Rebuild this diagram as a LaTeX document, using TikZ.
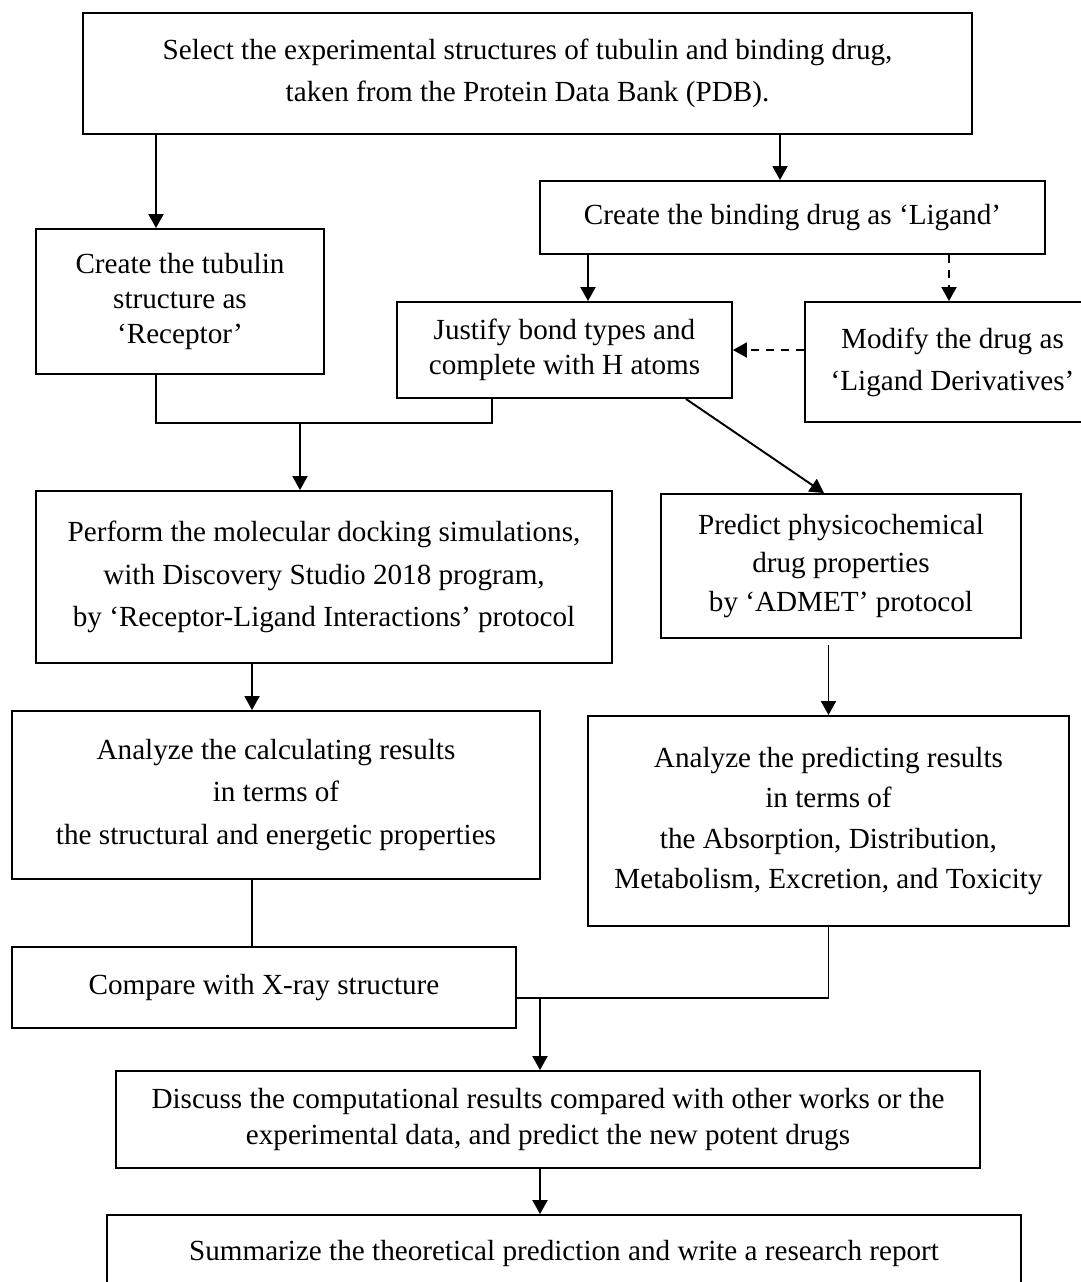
\documentclass[tikz,border=0pt]{standalone}
\usepackage{fontspec}
\setmainfont{Liberation Serif}
\usetikzlibrary{arrows.meta}

\tikzset{
  stepbox/.style={draw, line width=1.1pt, align=center, inner sep=0pt,
    font=\fontsize{16.6}{24}\selectfont},
  tightbox/.style={stepbox, font=\fontsize{16.6}{20}\selectfont},
  arr/.style={-{Triangle[length=0.28cm,width=0.3cm]}},
  dashedarr/.style={arr, dash pattern=on 4.5pt off 4pt},
}

\begin{document}
\begin{tikzpicture}[x=0.02cm, y=-0.02cm, line width=1.1pt]
  \useasboundingbox (0,0) rectangle (1081,1282);
  \clip (0,0) rectangle (1081,1282);

  \node[stepbox, minimum width=17.78cm, minimum height=2.42cm] (select) at (527.5,73.5)
    {Select the experimental structures of tubulin and binding drug,\\taken from the Protein Data Bank (PDB).};
  \node[stepbox, minimum width=10.1cm, minimum height=1.46cm] (ligand) at (792.5,217.5)
    {Create the binding drug as ‘Ligand’};
  \node[tightbox, minimum width=5.76cm, minimum height=2.9cm] (receptor) at (180,301.5)
    {Create the tubulin\\structure as\\‘Receptor’};
  \node[tightbox, minimum width=6.7cm, minimum height=1.92cm] (justify) at (564.5,350)
    {Justify bond types and\\complete with H atoms};
  \node[stepbox, minimum width=5.9cm, minimum height=2.4cm] (modify) at (952.5,362)
    {Modify the drug as\\‘Ligand Derivatives’};
  \node[stepbox, minimum width=11.52cm, minimum height=3.44cm] (perform) at (324,577)
    {Perform the molecular docking simulations,\\with Discovery Studio 2018 program,\\by ‘Receptor-Ligand Interactions’ protocol};
  \node[stepbox, minimum width=7.2cm, minimum height=2.88cm,
    font=\fontsize{16.6}{22}\selectfont] (predict) at (841,566)
    {Predict physicochemical\\drug properties\\by ‘ADMET’ protocol};
  \node[stepbox, minimum width=10.56cm, minimum height=3.36cm] (analyzecalc) at (276,795)
    {Analyze the calculating results\\in terms of\\the structural and energetic properties};
  \node[stepbox, minimum width=9.62cm, minimum height=4.2cm,
    font=\fontsize{16.6}{23}\selectfont] (analyzepred) at (828.5,821)
    {Analyze the predicting results\\in terms of\\the Absorption, Distribution,\\Metabolism, Excretion, and Toxicity};
  \node[stepbox, minimum width=10.08cm, minimum height=1.62cm] (compare) at (264,987.5)
    {Compare with X-ray structure};
  \node[tightbox, minimum width=17.28cm, minimum height=1.94cm] (discuss) at (548,1119.5)
    {Discuss the computational results compared with other works or the\\experimental data, and predict the new potent drugs};
  \node[stepbox, minimum width=18.28cm, minimum height=1.52cm] (summarize) at (564,1253)
    {Summarize the theoretical prediction and write a research report};

  \coordinate (join1) at (300,423);
  \coordinate (join2) at (540,998);

  \draw[arr] ([xshift=-0.48cm]receptor.north |- select.south) -- ([xshift=-0.48cm]receptor.north);
  \draw[arr] ([xshift=-0.25cm]ligand.north |- select.south) -- ([xshift=-0.25cm]ligand.north);
  \draw[arr] ([xshift=0.47cm]justify.north |- ligand.south) -- ([xshift=0.47cm]justify.north);
  \draw[dashedarr] ([xshift=-0.07cm]modify.north |- ligand.south) -- ([xshift=-0.07cm]modify.north);
  \draw[dashedarr] (modify.west |- justify.east) -- (justify.east);
  \draw ([xshift=-0.48cm]receptor.south) |- (join1) -| ([xshift=-1.45cm]justify.south);
  \draw[arr] (join1) -- (join1 |- perform.north);
  \draw[arr] ([xshift=-0.94cm]justify.south east) -- ([xshift=-0.34cm]predict.north);
  \draw[arr] ([xshift=-1.44cm]perform.south) -- ([xshift=-1.44cm]perform.south |- analyzecalc.north);
  \draw[arr] ([yshift=-0.12cm]predict.south -| analyzepred.north) -- (analyzepred.north);
  \draw ([xshift=-0.48cm]analyzecalc.south) -- ([xshift=-0.48cm]analyzecalc.south |- compare.north);
  \draw (analyzepred.south) |- (compare.east |- join2);
  \draw[arr] (join2) -- (join2 |- discuss.north);
  \draw[arr] ([xshift=-0.16cm]discuss.south) -- ([xshift=-0.16cm]discuss.south |- summarize.north);
\end{tikzpicture}
\end{document}
